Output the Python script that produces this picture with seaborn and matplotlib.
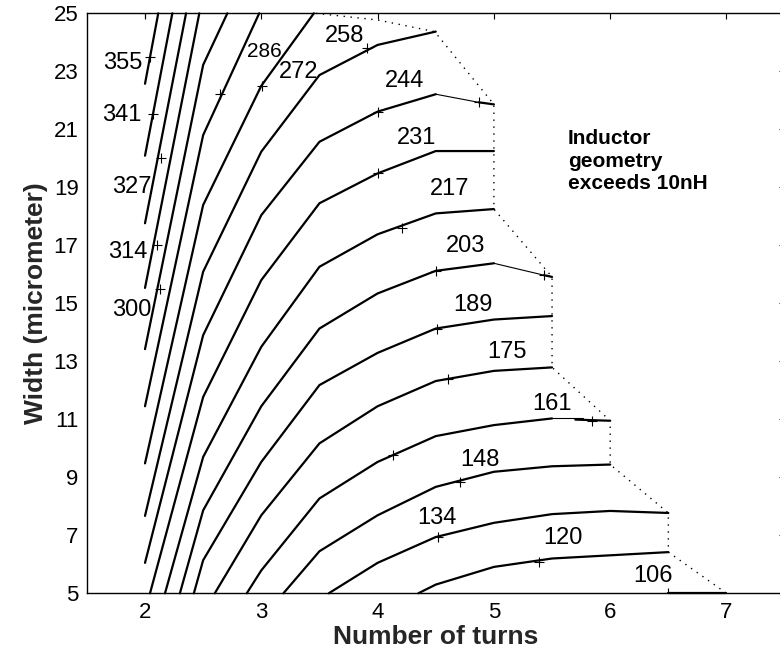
import matplotlib
matplotlib.use("Agg")
import matplotlib.pyplot as plt
import numpy as np
import pandas as pd
import seaborn as sns

# ---------------- data ----------------
levels = [106, 120, 134, 148, 161, 175, 189, 203, 217, 231,
          244, 258, 272, 286, 300, 314, 327, 341, 355]

# contour polylines (Number of turns, Width)
x106 = [6.5, 7.0];                                   y106 = [5.0, 5.0]
x120 = [4.35, 4.5, 5.0, 5.5, 6.0, 6.5];              y120 = [5.0, 5.30, 5.91, 6.20, 6.31, 6.42]
x134 = [3.58, 4.0, 4.5, 5.0, 5.5, 6.0, 6.5];         y134 = [5.0, 6.05, 6.94, 7.43, 7.73, 7.84, 7.77]
x148 = [3.19, 3.5, 4.0, 4.5, 5.0, 5.5, 6.0];         y148 = [5.0, 6.45, 7.69, 8.67, 9.19, 9.38, 9.44]
x161 = [2.875, 3.0, 3.5, 4.0, 4.5, 5.0, 5.5];        y161 = [5.0, 5.79, 8.27, 9.53, 10.42, 10.80, 11.03]
x161b = [5.7, 6.0];                                  y161b = [10.99, 10.95]
x175 = [2.60, 3.0, 3.5, 4.0, 4.5, 5.0, 5.5];         y175 = [5.0, 7.69, 10.17, 11.45, 12.32, 12.67, 12.79]
x189 = [2.42, 2.5, 3.0, 3.5, 4.0, 4.5, 5.0, 5.5];    y189 = [5.0, 6.14, 9.53, 12.18, 13.29, 14.13, 14.44, 14.56]
x203 = [2.30, 2.5, 3.0, 3.5, 4.0, 4.5, 5.0];         y203 = [5.0, 7.86, 11.45, 14.13, 15.34, 16.12, 16.38]
x203b = [5.43, 5.5];                                 y203b = [15.97, 15.91]
x217 = [2.172, 2.5, 3.0, 3.5, 4.0, 4.5, 5.0];        y217 = [5.0, 9.70, 13.5, 16.26, 17.38, 18.10, 18.25]
x231 = [2.043, 2.5, 3.0, 3.5, 4.0, 4.5, 5.0];        y231 = [5.0, 11.77, 15.80, 18.45, 19.48, 20.25, 20.25]
x244 = [2.0, 2.5, 3.0, 3.5, 4.0, 4.5];               y244 = [6.05, 13.9, 18.04, 20.57, 21.61, 22.21]
x244b = [4.87, 5.0];                                 y244b = [21.93, 21.86]
x258 = [2.0, 2.5, 3.0, 3.5, 4.0, 4.5];               y258 = [7.67, 16.09, 20.23, 22.87, 23.91, 24.37]
x272 = [2.0, 2.5, 3.0, 3.452];                       y272 = [9.48, 18.39, 22.5, 25.0]
x286 = [2.0, 2.5, 2.982];                            y286 = [11.45, 20.8, 25.0]
x300 = [2.0, 2.5, 2.708];                            y300 = [13.42, 23.22, 25.0]
x314 = [2.0, 2.467];                                 y314 = [15.53, 25.0]
x327 = [2.0, 2.353];                                 y327 = [17.76, 25.0]
x341 = [2.0, 2.235];                                 y341 = [20.09, 25.0]
x355 = [2.0, 2.114];                                 y355 = [22.57, 25.0]

# thin connecting pieces of the contour lines
thin244_x = [4.5, 4.87];  thin244_y = [22.21, 21.93]
thin203_x = [5.0, 5.43];  thin203_y = [16.38, 15.97]
thin161_x = [5.5, 5.77];  thin161_y = [11.05, 11.05]

# 10 nH boundary (dotted)
bound_x = [3.47, 4.0, 4.49, 5.0, 5.0, 5.5, 5.5, 6.0, 6.0, 6.5, 6.5, 7.0]
bound_y = [25.0, 24.77, 24.37, 21.86, 18.25, 15.91, 12.79, 10.95, 9.44, 7.77, 6.42, 5.0]

# label points ("+") and label texts
plus_x = [2.0, 2.043, 2.072, 2.135, 2.10, 2.129, 2.645, 3.003, 3.906, 4.006, 4.875,
          4.006, 4.207, 4.502, 5.434, 4.508, 4.603, 4.13, 5.846, 4.708, 4.522, 5.39, 6.5]
plus_y = [25.0, 23.51, 21.52, 20.0, 17.0, 15.48, 22.21, 22.5, 23.80, 21.59, 21.93,
          19.48, 17.6, 16.12, 15.97, 14.11, 12.38, 9.76, 10.95, 8.84, 6.94, 6.08, 5.0]

label_text = ["355", "341", "327", "314", "300", "286", "272", "258", "244", "231",
              "217", "203", "189", "175", "161", "148", "134", "120", "106"]
label_x = [1.813, 1.80, 1.886, 1.856, 1.886, 3.03, 3.318, 3.72, 4.236, 4.336,
           4.617, 4.76, 4.818, 5.11, 5.497, 4.88, 4.508, 5.597, 6.37]
label_y = [23.28, 21.49, 19.02, 16.78, 14.77, 23.70, 22.99, 24.23, 22.67, 20.69,
           18.94, 16.98, 14.94, 13.33, 11.52, 9.61, 7.61, 6.89, 5.59]
label_size = [17, 17, 17, 17, 17, 15, 17, 17, 17, 17,
              17, 17, 17, 17, 17, 17, 17, 17, 17]

xticks = [2, 3, 4, 5, 6, 7]
yticks = [5, 7, 9, 11, 13, 15, 17, 19, 21, 23, 25]
xlabel = "Number of turns"
ylabel = "Width (micrometer)"
note = "Inductor\ngeometry\nexceeds 10nH"

# ---------------- build tables ----------------
thick = [("106", x106, y106), ("120", x120, y120), ("134", x134, y134), ("148", x148, y148),
         ("161", x161, y161), ("161b", x161b, y161b), ("175", x175, y175), ("189", x189, y189),
         ("203", x203, y203), ("203b", x203b, y203b), ("217", x217, y217), ("231", x231, y231),
         ("244", x244, y244), ("244b", x244b, y244b), ("258", x258, y258), ("272", x272, y272),
         ("286", x286, y286), ("300", x300, y300), ("314", x314, y314), ("327", x327, y327),
         ("341", x341, y341), ("355", x355, y355)]
rows = []
for name, xs, ys in thick:
    for i, (a, b) in enumerate(zip(xs, ys)):
        rows.append({"seg": name, "order": i, "x": a, "y": b})
df_thick = pd.DataFrame(rows)

rows = []
for name, xs, ys in [("t244", thin244_x, thin244_y), ("t203", thin203_x, thin203_y),
                     ("t161", thin161_x, thin161_y)]:
    for i, (a, b) in enumerate(zip(xs, ys)):
        rows.append({"seg": name, "order": i, "x": a, "y": b})
df_thin = pd.DataFrame(rows)

df_bound = pd.DataFrame({"x": bound_x, "y": bound_y, "seg": "b"})
df_plus = pd.DataFrame({"x": plus_x, "y": plus_y})

# ---------------- plot ----------------
sns.set_style("white")
plt.rcParams["font.family"] = ["Liberation Sans", "DejaVu Sans"]

fig = plt.figure(figsize=(7.8, 6.59), dpi=100)
ax = fig.add_axes([0.11135, 0.0997, 0.8946, 0.8801])

sns.lineplot(data=df_thick, x="x", y="y", units="seg", estimator=None, sort=False,
             color="black", linewidth=1.6, ax=ax, legend=False)
sns.lineplot(data=df_thin, x="x", y="y", units="seg", estimator=None, sort=False,
             color="black", linewidth=0.8, ax=ax, legend=False)
n_before = len(ax.lines)
sns.lineplot(data=df_bound, x="x", y="y", units="seg", estimator=None, sort=False,
             color="black", linewidth=1.0, ax=ax, legend=False)
for ln in ax.lines[n_before:]:
    ln.set_dashes((1, 4))
for ln in ax.lines:
    ln.set_clip_on(False)

sns.scatterplot(data=df_plus, x="x", y="y", marker="+", s=60, color="black",
                linewidth=0.8, ax=ax, legend=False, zorder=5)

for t, lx, ly, fs in zip(label_text, label_x, label_y, label_size):
    ax.text(lx, ly, t, ha="center", va="center", fontsize=fs, color="black")

ax.text(5.637, 19.9, note, ha="left", va="center", fontsize=15, fontweight="bold",
        linespacing=1.25, color="black")

ax.set_xlim(1.5, 7.5)
ax.set_ylim(5, 25)
ax.set_xticks(xticks)
ax.set_yticks(yticks)
ax.tick_params(direction="in", length=4, width=0.8, top=True, right=True,
               labelsize=16, colors="black", pad=6)
for s in ax.spines.values():
    s.set_visible(True)
    s.set_color("black")
    s.set_linewidth(1.0)
ax.set_xlabel(xlabel, fontsize=19, fontweight="bold", labelpad=2)
ax.set_ylabel(ylabel, fontsize=19, fontweight="bold", labelpad=4)

fig.savefig("out.png", dpi=100)
